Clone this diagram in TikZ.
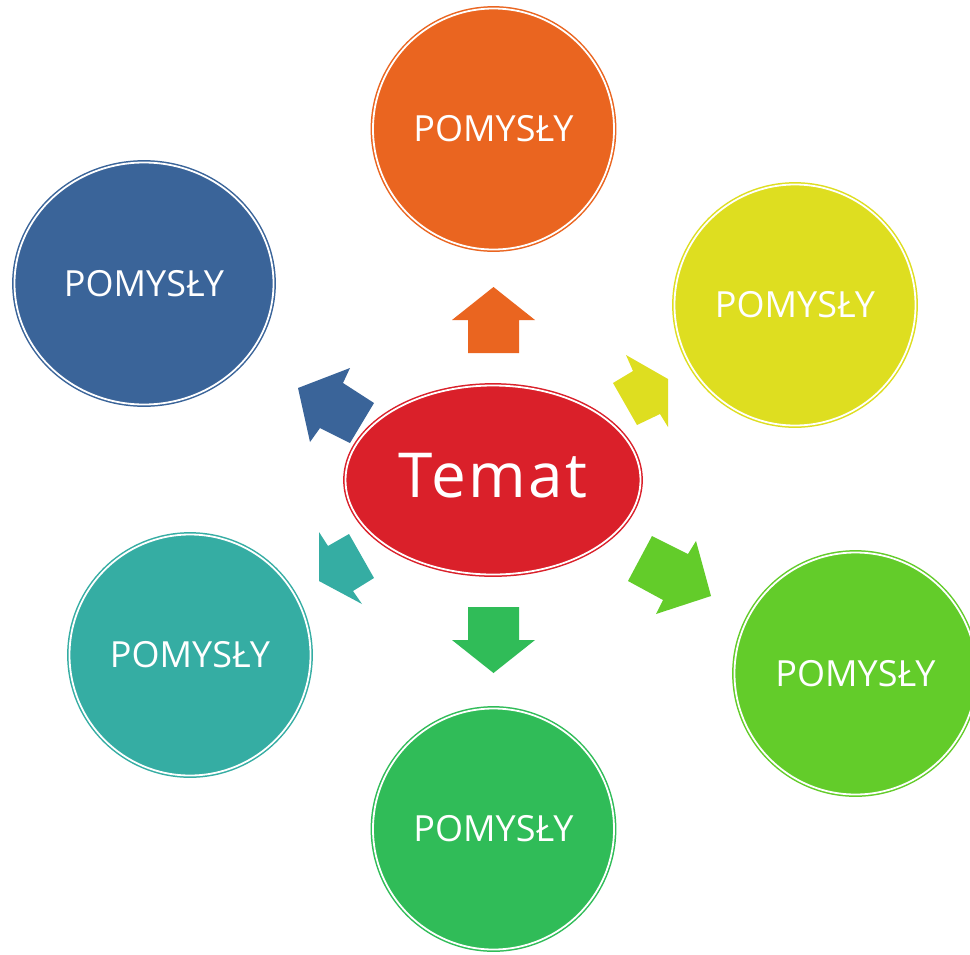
\documentclass[tikz,border=0pt]{standalone}
\usepackage{fontspec}
\setmainfont{Open Sans}
\usetikzlibrary{shapes.geometric}
\definecolor{cOrange}{RGB}{234,101,32}
\definecolor{cYellow}{RGB}{222,222,32}
\definecolor{cLime}{RGB}{99,204,42}
\definecolor{cGreen}{RGB}{48,188,88}
\definecolor{cTeal}{RGB}{53,173,163}
\definecolor{cBlue}{RGB}{58,100,153}
\definecolor{cRed}{RGB}{218,32,42}
\begin{document}
\begin{tikzpicture}[x=1pt,y=-1pt,
  ring/.style={fill=#1, draw=#1, double=white, double distance=1.8pt, line width=1.5pt,
    inner sep=0pt, text=white},
  idea/.style={ring=#1, circle, minimum size=241pt, font=\fontsize{36}{40}\selectfont},
  blockarrow/.style={fill=#1, draw=none}]
\clip (0,0) rectangle (970,954);
\fill[white] (0,0) rectangle (970,954);

% block arrows
\fill[blockarrow=cOrange] (468,353) -- (468,320) -- (452,320) -- (493.5,287) -- (535,320) -- (519,320) -- (519,353) -- cycle;
\fill[blockarrow=cGreen] (468,607) -- (519,607) -- (519,640) -- (535,640) -- (493.5,673) -- (452,640) -- (468,640) -- cycle;
\fill[blockarrow=cBlue] (298,388) -- (350,368) -- (343,383) -- (374,403) -- (350,443) -- (320,428) -- (310,442) -- cycle;
\fill[blockarrow=cYellow] (626,355) -- (633,371) -- (613,383) -- (637,425) -- (660,414) -- (668,427) -- (668,379) -- cycle;
\fill[blockarrow=cLime] (652,536) -- (688,554) -- (696,541) -- (711,596) -- (656,614) -- (663,600) -- (628,581) -- cycle;
\fill[blockarrow=cTeal] (319,532) -- (328,546) -- (349,534) -- (374,578) -- (353,591) -- (362,604) -- (319,581) -- cycle;

% centre
\node[ring=cRed, ellipse, minimum width=295pt, minimum height=189pt] (temat) at (493,480) {};
\node[text=white, font=\fontsize{62}{66}\selectfont\addfontfeature{LetterSpace=4}, inner sep=0pt] (tematlabel) at (493,476) {Temat};

% ideas
\node[idea=cOrange] (top) at (493.5,129) {POMYSŁY};
\node[idea=cYellow] (upright) at (795,305) {POMYSŁY};
\node[idea=cLime, minimum size=242pt] (downright) at (855.5,673.5) {POMYSŁY};
\node[idea=cGreen] (bottom) at (493.5,829) {POMYSŁY};
\node[idea=cTeal] (downleft) at (190,655) {POMYSŁY};
\node[ring=cBlue, ellipse, minimum width=259pt, minimum height=242pt, font=\fontsize{36}{40}\selectfont] (upleft) at (144,283.5) {POMYSŁY};
\end{tikzpicture}
\end{document}
